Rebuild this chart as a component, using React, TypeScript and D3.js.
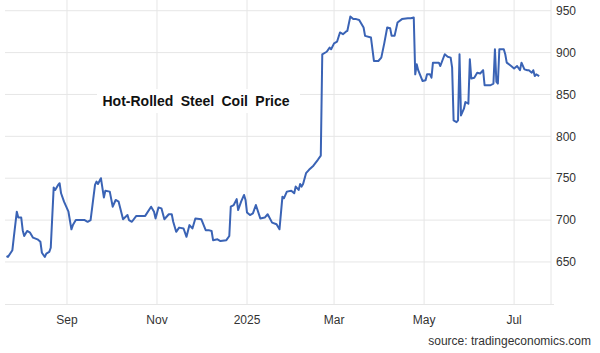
import * as d3 from "d3";

const priceDates = [
  "2024-07-22", "2024-07-23", "2024-07-26", "2024-07-27", "2024-07-29", "2024-07-30", "2024-08-01",
  "2024-08-02", "2024-08-03", "2024-08-05", "2024-08-07", "2024-08-09", "2024-08-12", "2024-08-14",
  "2024-08-15", "2024-08-17", "2024-08-18", "2024-08-20", "2024-08-21", "2024-08-23", "2024-08-24",
  "2024-08-26", "2024-08-27", "2024-08-28", "2024-08-30", "2024-09-02", "2024-09-04", "2024-09-05",
  "2024-09-07", "2024-09-13", "2024-09-15", "2024-09-17", "2024-09-20", "2024-09-21", "2024-09-22",
  "2024-09-24", "2024-09-26", "2024-09-27", "2024-09-30", "2024-10-02", "2024-10-04", "2024-10-06",
  "2024-10-09", "2024-10-12", "2024-10-13", "2024-10-15", "2024-10-18", "2024-10-24", "2024-10-28",
  "2024-10-30", "2024-10-31", "2024-11-02", "2024-11-04", "2024-11-06", "2024-11-09", "2024-11-11",
  "2024-11-12", "2024-11-14", "2024-11-16", "2024-11-19", "2024-11-21", "2024-11-23", "2024-11-25",
  "2024-11-27", "2024-12-01", "2024-12-04", "2024-12-06", "2024-12-08", "2024-12-09", "2024-12-12",
  "2024-12-14", "2024-12-18", "2024-12-20", "2024-12-21", "2024-12-23", "2024-12-25", "2024-12-26",
  "2024-12-28", "2024-12-30", "2024-12-31", "2025-01-01", "2025-01-03", "2025-01-05", "2025-01-07",
  "2025-01-10", "2025-01-13", "2025-01-15", "2025-01-18", "2025-01-21", "2025-01-23", "2025-01-25",
  "2025-01-26", "2025-01-28", "2025-01-31", "2025-02-02", "2025-02-03", "2025-02-05", "2025-02-06",
  "2025-02-07", "2025-02-08", "2025-02-10", "2025-02-12", "2025-02-15", "2025-02-18", "2025-02-20",
  "2025-02-21", "2025-02-24", "2025-02-26", "2025-02-27", "2025-03-01", "2025-03-03", "2025-03-05",
  "2025-03-07", "2025-03-09", "2025-03-10", "2025-03-12", "2025-03-14", "2025-03-16", "2025-03-18",
  "2025-03-21", "2025-03-22", "2025-03-26", "2025-03-28", "2025-03-31", "2025-04-02", "2025-04-04",
  "2025-04-06", "2025-04-08", "2025-04-09", "2025-04-11", "2025-04-13", "2025-04-16", "2025-04-20",
  "2025-04-22", "2025-04-24", "2025-04-25", "2025-04-26", "2025-04-27", "2025-04-30", "2025-05-02",
  "2025-05-03", "2025-05-05", "2025-05-06", "2025-05-07", "2025-05-11", "2025-05-12", "2025-05-15",
  "2025-05-17", "2025-05-19", "2025-05-20", "2025-05-21", "2025-05-23", "2025-05-24", "2025-05-25",
  "2025-05-26", "2025-05-28", "2025-05-29", "2025-05-31", "2025-06-01", "2025-06-02", "2025-06-04",
  "2025-06-06", "2025-06-08", "2025-06-10", "2025-06-11", "2025-06-15", "2025-06-17", "2025-06-18",
  "2025-06-19", "2025-06-20", "2025-06-21", "2025-06-24", "2025-06-25", "2025-06-26", "2025-06-29",
  "2025-07-01", "2025-07-03", "2025-07-05", "2025-07-06", "2025-07-08", "2025-07-10", "2025-07-11",
  "2025-07-13", "2025-07-14", "2025-07-15", "2025-07-16", "2025-07-18",
];

const prices = [
  657, 656, 664, 680, 710, 703, 703,
  688, 681, 687, 685, 679, 677, 674,
  661, 656, 660, 662, 667, 739, 736,
  742, 744, 732, 722, 710, 689, 694,
  700, 700, 698, 700, 742, 746, 743,
  750, 727, 735, 734, 716, 724, 722,
  701, 706, 700, 698, 705, 705, 716,
  710, 702, 715, 714, 701, 707, 707,
  698, 686, 691, 690, 680, 694, 690,
  702, 701, 688, 688, 687, 676, 677,
  675, 676, 681, 716, 718, 725, 712,
  722, 730, 724, 709, 706, 708, 718,
  702, 703, 707, 697, 695, 689, 728,
  726, 734, 735, 732, 740, 736, 743,
  740, 743, 756, 760, 765, 772, 777,
  898, 901, 906, 904, 911, 913, 924,
  922, 925, 926, 943, 940, 940, 939,
  930, 920, 918, 890, 890, 894, 911,
  930, 929, 920, 920, 936, 940, 941,
  941, 942, 874, 886, 879, 866, 867,
  874, 874, 870, 888, 888, 884, 898,
  895, 894, 882, 819, 817, 819, 898,
  825, 833, 841, 839, 892, 869, 870,
  876, 875, 879, 861, 861, 863, 904,
  865, 863, 904, 904, 898, 888, 884,
  881, 884, 879, 888, 880, 879, 879,
  876, 879, 872, 874, 872,
];

const yTicks = [650, 700, 750, 800, 850, 900, 950];
const xTickDates = ["2024-09-01", "2024-11-01", "2025-01-01", "2025-03-01", "2025-05-01", "2025-07-01"];
const xTickLabels = ["Sep", "Nov", "2025", "Mar", "May", "Jul"];

const W = 600;
const H = 353;
const FONT = "'Liberation Sans', Arial, Helvetica, sans-serif";

export default function App() {
  const parse = d3.timeParse("%Y-%m-%d");
  const data = priceDates.map((d, i) => ({ date: parse(d)!, value: prices[i] }));

  const left = 5;
  const right = 551;
  const top = 0;
  const bottom = 304.5;

  const x = d3
    .scaleTime()
    .domain([parse("2024-07-21")!, parse("2025-07-26")!])
    .range([left, right]);
  const y = d3.scaleLinear().domain([599.2, 962.8]).range([bottom, top]);

  const line = d3
    .line<{ date: Date; value: number }>()
    .x((d) => x(d.date))
    .y((d) => y(d.value));

  return (
    <div style={{ position: "fixed", left: 0, top: 0, width: W, height: H, background: "#fff" }}>
      <svg width={W} height={H} style={{ display: "block" }} fontFamily={FONT}>
        <rect width={W} height={H} fill="#fff" />
        {yTicks.map((t) => (
          <line key={"gy" + t} x1={left} x2={right} y1={y(t)} y2={y(t)} stroke="#e6e6e6" strokeWidth={1} />
        ))}
        {xTickDates.map((d) => (
          <line
            key={"gx" + d}
            x1={x(parse(d)!)}
            x2={x(parse(d)!)}
            y1={top}
            y2={bottom}
            stroke="#e6e6e6"
            strokeWidth={1}
          />
        ))}
        <line x1={left} x2={right + 3} y1={bottom} y2={bottom} stroke="#e6e6e6" strokeWidth={1} />
        <line x1={right} x2={right} y1={top} y2={bottom} stroke="#e6e6e6" strokeWidth={1} />

        {yTicks.map((t) => (
          <text key={"ty" + t} x={556} y={y(t)} dy="0.35em" fontSize={12} fill="#333">
            {t}
          </text>
        ))}
        {xTickDates.map((d, i) => (
          <text
            key={"tx" + d}
            x={x(parse(d)!)}
            y={320}
            dy="0.35em"
            fontSize={12}
            fill="#333"
            textAnchor="middle"
          >
            {xTickLabels[i]}
          </text>
        ))}

        <rect x={97} y={89} width={203} height={24} fill="#fff" />
        <path d={line(data) || ""} fill="none" stroke="#3a63b5" strokeWidth={2} strokeLinejoin="round" />

        <text x={102.5} y={101} dy="0.35em" fontSize={14} fontWeight="bold" fill="#111" wordSpacing={3.5}>
          Hot-Rolled Steel Coil Price
        </text>
        <text x={591} y={341} dy="0.35em" fontSize={12} fill="#333" textAnchor="end">
          source: tradingeconomics.com
        </text>
      </svg>
    </div>
  );
}
